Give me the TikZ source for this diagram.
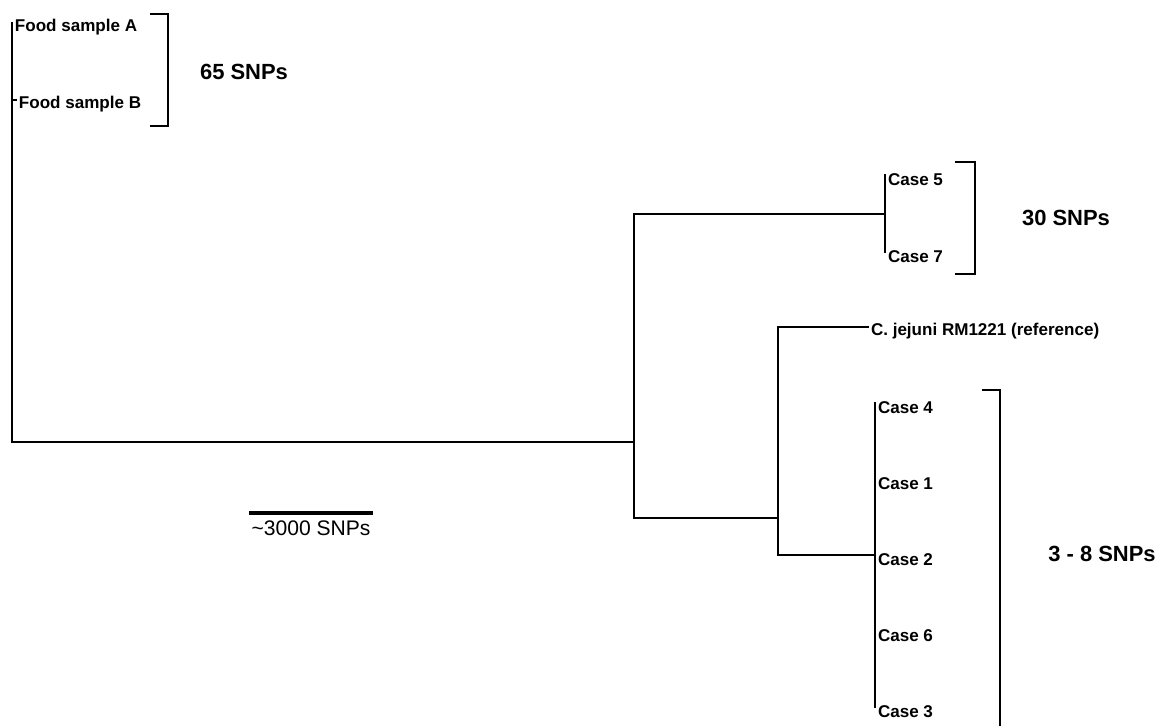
\documentclass[tikz,border=0pt]{standalone}
\usepackage{fontspec}
\setmainfont{Liberation Sans}
\usepackage{tikz}
\usetikzlibrary{positioning, calc}

\begin{document}
\begin{tikzpicture}[
      x={(0.02cm,0)}, y={(0,-0.02cm)},
      branch/.style={line width=1.2pt, line cap=rect},
      bracket/.style={line width=1.6pt},
      leaf/.style={anchor=west, inner sep=1.5pt, yshift=-2.5pt, font=\fontsize{9.7}{11}\selectfont\bfseries},
      group/.style={font=\fontsize{12.5}{14}\selectfont\bfseries}
    ]
      \useasboundingbox (0,0) rectangle (1158,725);

      \coordinate (fa) at (12,23);
      \coordinate (fb) at (16,100);
      \coordinate (r) at (12,442);
      \coordinate (n1) at (634,442);
      \coordinate (n2) at (885,214);
      \coordinate (n3) at (778,518);
      \coordinate (n4) at (875,555);
      \coordinate (c5) at (885,175);
      \coordinate (c7) at (885,252);
      \coordinate (cj) at (868,327);
      \coordinate (c4) at (875,403);
      \coordinate (c1) at (875,479);
      \coordinate (c6) at (875,631);
      \coordinate (c3) at (875,707);

      \draw[branch] (fa) -- (r) -- (n1);
      \draw[branch] (fb) -- (fb -| r);
      \draw[branch] (n2) -| (n1) |- (n3);
      \draw[branch] (c5) -- (c7);
      \draw[branch] (cj) -| (n3) |- (n4);
      \draw[branch] (c4) -- (c3);

      \node[leaf] (lfa) at (fa) {Food sample A};
      \node[leaf] (lfb) at (fb) {Food sample B};
      \node[leaf] (l5) at (c5) {Case 5};
      \node[leaf] (l7) at (c7) {Case 7};
      \node[leaf] (lcj) at (cj) {C. jejuni RM1221 (reference)};
      \node[leaf] (l4) at (c4) {Case 4};
      \node[leaf] (l1) at (c1) {Case 1};
      \node[leaf] (l2) at (n4) {Case 2};
      \node[leaf] (l6) at (c6) {Case 6};
      \node[leaf] (l3) at (c3) {Case 3};

      \draw[bracket] (150,14) -| (168,126) -- (150,126);
      \draw[bracket] (955,162) -| (975,274) -- (955,274);
      \draw[bracket] (982,390) -| (1000,730);

      \node[group] (g65) at (244,72) {65 SNPs};
      \node[group] (g30) at (1066,218) {30 SNPs};
      \node[group] (g38) at (1102,554) {3 - 8 SNPs};

      \coordinate (sa) at (249,513);
      \coordinate (sb) at (373,513);
      \draw[line width=2pt] (sa) -- (sb);
      \node[below=1pt of $(sa)!0.5!(sb)$, font=\fontsize{12}{14}\selectfont] (scale) {\textasciitilde 3000 SNPs};
    \end{tikzpicture}
\end{document}
